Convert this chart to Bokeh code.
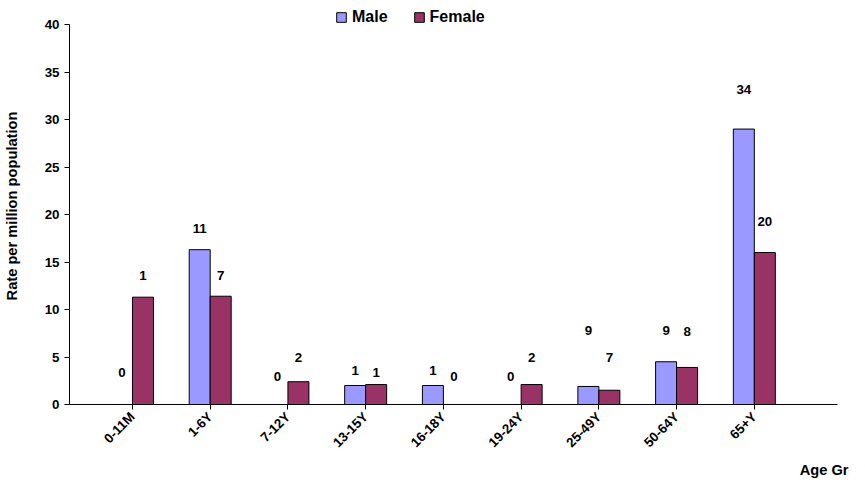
from bokeh.plotting import figure
from bokeh.models import ColumnDataSource, FixedTicker, Range1d, Legend, LegendItem
from bokeh.core.properties import value
from bokeh.embed import file_html
from bokeh.resources import INLINE
import math

groups = ["0-11M", "1-6Y", "7-12Y", "13-15Y", "16-18Y", "19-24Y", "25-49Y", "50-64Y", "65+Y"]
male_rate = [0, 16.3, 0, 2.0, 2.0, 0, 1.9, 4.5, 29.0]
female_rate = [11.3, 11.4, 2.4, 2.1, 0, 2.1, 1.5, 3.9, 16.0]
male_count = [0, 11, 0, 1, 1, 0, 9, 9, 34]
female_count = [1, 7, 2, 1, 0, 2, 7, 8, 20]
male_label_y = [3.4, 18.5, 3.0, 3.6, 3.6, 3.0, 7.8, 7.8, 33.2]
female_label_y = [13.6, 13.6, 4.9, 3.4, 3.0, 4.9, 4.9, 7.7, 19.3]

xs = list(range(len(groups)))
bw = 0.27
src = ColumnDataSource(data=dict(
    xm=[x - bw / 2 for x in xs], xf=[x + bw / 2 for x in xs],
    male=male_rate, female=female_rate,
    mc=[str(c) for c in male_count], fc=[str(c) for c in female_count],
    my=male_label_y, fy=female_label_y,
))

p = figure(width=849, height=481, output_backend="svg", toolbar_location=None,
           x_range=Range1d(-0.81, 9.07), y_range=Range1d(0, 41.8),
           min_border_left=44, min_border_right=12, min_border_top=7, min_border_bottom=5)
p.outline_line_color = None
p.grid.visible = False

rm = p.vbar(x="xm", top="male", width=bw, source=src, fill_color="#9999ff", line_color="black", line_width=1)
rf = p.vbar(x="xf", top="female", width=bw, source=src, fill_color="#993366", line_color="black", line_width=1)

for xcol, ycol, tcol in (("xm", "my", "mc"), ("xf", "fy", "fc")):
    p.text(x=xcol, y=ycol, text=tcol, source=src,
           text_align="center", text_baseline="middle", text_font_size="10pt",
           text_font_style="bold", text_font=value("Liberation Sans"))

p.xaxis.ticker = FixedTicker(ticks=xs)
p.xaxis.major_label_overrides = {i: g for i, g in enumerate(groups)}
p.xaxis.major_label_orientation = math.pi / 4
p.yaxis.ticker = FixedTicker(ticks=list(range(0, 41, 5)))
p.yaxis.bounds = (0, 40)
for ax in (p.xaxis, p.yaxis):
    ax.major_label_text_font = "Liberation Sans"
    ax.major_label_text_font_style = "bold"
    ax.major_label_text_font_size = "10pt"
    ax.major_label_text_color = "black"
    ax.axis_line_color = "black"
    ax.major_tick_line_color = "black"
    ax.minor_tick_line_color = None
    ax.major_tick_in = 0
    ax.major_tick_out = 5
    ax.axis_label_text_font = "Liberation Sans"
    ax.axis_label_text_font_style = "bold"
    ax.axis_label_text_font_size = "11pt"
    ax.axis_label_text_color = "black"
p.yaxis.axis_label = "Rate per million population"
p.yaxis.axis_label_standoff = 22
p.xaxis.axis_label = "Age Group"
p.xaxis.axis_label_align = "end"
p.xaxis.axis_label_text_align = "right"
p.xaxis.axis_label_standoff = 4

leg = Legend(items=[LegendItem(label="Male", renderers=[rm]), LegendItem(label="Female", renderers=[rf])],
             orientation="horizontal", location=(266, 378), border_line_color=None,
             label_text_font="Liberation Sans", label_text_font_style="bold", label_text_font_size="12pt",
             label_text_color="black", label_height=14,
             glyph_width=12, glyph_height=12, spacing=25, padding=0, margin=0, background_fill_alpha=0)
p.add_layout(leg)

open("out.html", "w").write(file_html(p, INLINE))
